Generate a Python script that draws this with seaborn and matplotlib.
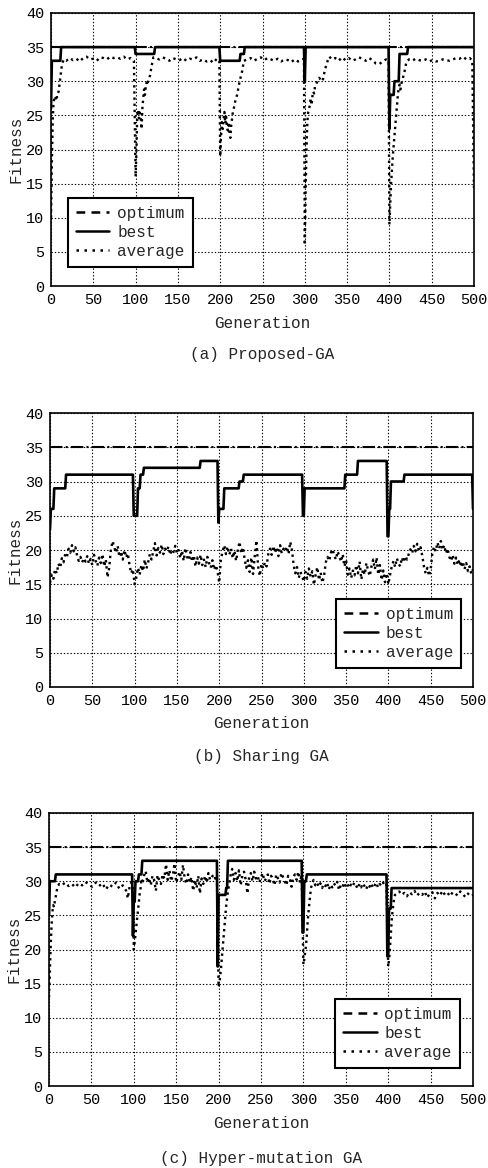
import numpy as np
import pandas as pd
import matplotlib
matplotlib.use("Agg")
import matplotlib.pyplot as plt
from matplotlib.lines import Line2D
import seaborn as sns

# ---------------- data ----------------
generations = np.arange(0, 501)
optimum_value = 35
x_ticks = list(range(0, 501, 50))
y_ticks = list(range(0, 41, 5))
captions = ["(a) Proposed-GA", "(b) Sharing GA", "(c) Hyper-mutation GA"]
legend_labels = ["optimum", "best", "average"]

# best fitness: (generation where value starts, value)
best_a_steps = [(0, 26), (1, 33), (12, 35), (100, 34), (123, 35), (200, 33), (224, 34),
                (229, 35), (300, 30), (301, 35), (400, 23), (401, 28), (406, 30),
                (412, 34), (422, 35)]
best_b_steps = [(0, 23), (1, 26), (5, 29), (19, 31), (99, 25), (104, 29), (107, 31),
                (111, 32), (178, 33), (199, 24), (200, 26), (206, 29), (224, 30),
                (229, 31), (299, 25), (301, 29), (349, 31), (364, 33), (399, 22),
                (401, 26), (403, 30), (419, 31), (500, 26)]
best_c_steps = [(0, 25), (1, 30), (8, 31), (99, 22), (100, 27), (102, 30), (106, 31),
                (110, 33), (199, 17.5), (200, 28), (209, 29), (211, 33), (299, 22.5),
                (301, 30), (304, 31), (399, 19), (401, 26), (404, 29)]

# average fitness (generation, value)
avg_a = [(0, 10), (1, 18), (2, 24), (3, 27), (4, 27.5), (5, 27.2), (6, 28), (7, 27.6),
         (8, 28.2), (9, 28.5), (10, 29.5), (11, 30.5), (12, 31.5), (13, 32.5), (15, 33.2),
         (18, 33.0), (22, 33.4), (26, 33.1), (30, 33.3), (34, 32.9), (38, 33.4), (42, 33.6),
         (46, 33.2), (50, 33.3), (54, 33.0), (58, 33.5), (62, 33.4), (66, 33.2), (70, 33.6),
         (74, 33.4), (78, 33.5), (82, 33.3), (86, 33.6), (90, 33.2), (94, 33.4), (98, 33.0),
         (100, 16), (101, 20), (102, 25), (103, 25.8), (104, 24.6), (105, 25.4), (106, 24.8),
         (107, 23), (108, 26), (109, 27.5), (110, 28.8), (111, 28), (112, 29.2), (113, 29.8),
         (114, 29.4), (115, 30.2), (117, 30.8), (119, 32.3), (121, 33.5), (124, 33.4),
         (128, 33.2), (132, 33.5), (136, 33.3), (140, 33.0), (144, 33.4), (148, 33.2),
         (152, 33.1), (156, 33.4), (160, 33.0), (164, 33.3), (168, 33.2), (172, 33.5),
         (176, 33.0), (180, 33.2), (184, 32.9), (188, 33.1), (192, 32.7), (196, 33.3),
         (199, 33.0),
         (200, 19), (201, 22), (202, 24), (203, 23), (204, 24.5), (205, 25.5), (206, 23.8),
         (207, 24.8), (208, 23.2), (209, 22.8), (210, 24), (211, 22.5), (212, 21.7),
         (213, 23.5), (214, 24.5), (215, 25.5), (216, 26), (218, 27.2), (220, 28),
         (222, 29.4), (224, 30.5), (226, 31.5), (228, 33), (232, 33.2), (236, 33.4),
         (240, 33.0), (244, 33.3), (248, 33.5), (252, 33.1), (256, 33.4), (260, 33.2),
         (264, 33.0), (268, 33.3), (272, 32.9), (276, 33.2), (280, 33.1), (284, 32.8),
         (288, 33.2), (292, 32.9), (296, 33.1), (299, 33.3),
         (300, 6), (301, 14), (302, 20), (303, 24), (304, 25.5), (305, 26), (306, 26.5),
         (307, 27.5), (308, 26.5), (309, 27.8), (310, 28.5), (311, 28.2), (312, 29.2),
         (313, 29.5), (315, 30.0), (317, 30.5), (319, 30.2), (321, 30.0), (323, 31.2),
         (325, 32.2), (327, 33.0), (329, 33.6), (332, 33.2), (336, 33.4), (340, 33.0),
         (344, 33.5), (348, 33.1), (352, 33.4), (356, 33.0), (360, 33.2), (364, 33.5),
         (368, 33.3), (372, 33.0), (376, 33.4), (380, 33.1), (384, 32.6), (388, 32.5),
         (392, 32.9), (396, 33.2), (399, 33.0),
         (400, 9), (401, 12), (402, 15), (403, 17), (404, 19), (405, 20.5), (406, 22),
         (407, 23.5), (408, 25), (409, 26.5), (410, 28), (411, 29), (412, 29.5), (413, 28.8),
         (414, 29.6), (416, 30.5), (418, 31.5), (420, 32.8), (423, 33.2), (427, 33.0),
         (431, 33.3), (435, 33.1), (439, 33.0), (443, 33.2), (447, 32.9), (451, 33.1),
         (455, 32.9), (459, 33.0), (463, 33.2), (467, 33.1), (471, 33.0), (475, 33.2),
         (479, 33.4), (483, 33.3), (487, 33.6), (491, 33.2), (495, 33.4), (498, 33.0),
         (500, 14)]

avg_b_gen = list(range(0, 501, 2))
avg_b_val = [15.2, 16.4, 15.8, 17.2, 16.6, 18.0, 17.4, 18.8, 18.2, 19.4, 19.0,
             20.2, 19.6, 20.7, 19.8, 20.4, 19.2, 18.4, 19.0, 18.2, 18.8,
             18.3, 19.1, 18.0, 18.7, 17.8, 19.3, 18.4, 17.7, 18.9, 18.1,
             19.4, 17.6, 18.6, 16.0, 17.4, 20.1, 21.3, 20.4, 19.6, 20.6,
             19.0, 19.8, 18.6, 20.0, 18.9, 19.5, 17.8, 16.6, 17.2, 15.0,
             16.0, 17.4, 16.4, 17.8, 16.9, 18.6, 17.3, 18.2, 19.4, 18.6,
             19.8, 21.0, 19.2, 20.3, 19.6, 20.8, 19.4, 20.2, 19.8, 20.5,
             19.3, 20.1, 19.7, 20.6, 19.5, 20.0, 18.8, 19.9, 18.4, 20.3,
             19.0, 18.5, 19.7, 18.3, 19.2, 17.6, 18.9, 18.0, 19.3, 17.8,
             18.6, 17.5, 19.0, 18.1, 17.4, 18.5, 17.1, 17.8, 16.9, 15.2,
             18.6, 19.8, 20.7, 19.4, 20.5, 19.3, 20.2, 18.8, 19.9, 18.4,
             20.0, 21.2, 19.5, 20.4, 18.7, 17.4, 18.5, 16.8, 18.9, 16.5,
             19.1, 21.4, 17.6, 16.2, 18.0, 17.3, 18.2, 17.6, 19.4, 20.2,
             19.3, 20.6, 19.6, 20.4, 19.1, 20.7, 19.5, 20.2, 19.8, 20.5,
             19.4, 21.2, 20.0, 17.8, 16.6, 17.5, 15.9, 16.8, 16.2, 15.4,
             16.8, 15.8, 17.3, 16.1, 16.9, 14.9, 16.4, 17.5, 15.6, 16.7,
             15.2, 16.3, 18.2, 19.0, 18.4, 19.6, 20.1, 19.2, 18.6, 19.8,
             19.1, 18.3, 19.4, 17.6, 18.5, 16.4, 17.3, 15.9, 17.0, 16.3,
             17.8, 16.6, 18.3, 15.7, 17.2, 16.4, 18.1, 17.0, 16.2, 17.6,
             18.6, 17.2, 18.9, 16.4, 17.8, 15.6, 17.0, 15.3, 16.6, 15.0,
             16.4, 17.6, 18.4, 17.5, 18.8, 18.0, 17.6, 18.9, 18.2, 19.1,
             18.6, 19.4, 20.1, 19.5, 20.6, 19.8, 20.9, 19.9, 20.4, 19.2,
             17.6, 16.6, 17.4, 16.2, 17.2, 19.6, 20.5, 19.8, 21.1, 20.2,
             21.3, 20.0, 20.7, 19.5, 20.2, 19.0, 18.4, 19.3, 18.0, 18.9,
             17.8, 18.6, 17.5, 18.3, 17.2, 18.1, 16.9, 17.6, 16.5, 17.2]

avg_c = [(0, 13), (1, 17), (2, 20.5), (3, 23.5), (4, 25.5), (5, 26.5), (6, 26.2), (7, 27.2),
         (8, 27.8), (9, 28.5), (10, 29.2), (12, 29.6), (15, 29.4), (19, 29.8), (23, 29.3),
         (27, 29.6), (31, 29.1), (35, 29.7), (39, 29.4), (43, 29.9), (47, 29.5), (51, 29.2),
         (55, 29.8), (59, 29.3), (63, 29.7), (67, 28.8), (71, 29.5), (75, 29.2), (79, 29.8),
         (83, 28.9), (87, 29.4), (91, 28.6), (93, 27.5), (95, 29.2), (97, 29.8), (99, 29.5),
         (100, 20), (101, 21), (102, 22.2), (103, 23.5), (104, 24.5), (105, 25.8), (106, 27),
         (107, 28.2), (108, 29), (109, 30.4), (110, 29.6), (112, 30.8), (114, 31.5),
         (116, 29.8), (118, 30.5), (120, 29.4), (122, 30.8), (124, 30.2), (126, 28.6),
         (128, 30.9), (130, 30.1), (132, 29.6), (134, 31.0), (136, 30.4), (138, 32.5),
         (140, 30.2), (142, 31.6), (144, 30.0), (146, 30.8), (148, 32.6), (150, 29.8),
         (152, 30.6), (154, 31.4), (156, 30.2), (158, 32.4), (160, 30.4), (162, 29.6),
         (164, 31.0), (166, 29.8), (168, 30.6), (170, 28.6), (172, 30.2), (174, 29.0),
         (176, 30.8), (178, 28.2), (180, 30.4), (182, 29.6), (184, 30.8), (186, 29.8),
         (188, 31.2), (190, 30.2), (192, 30.6), (194, 31.0), (196, 30.4), (198, 30.8),
         (200, 14.5), (201, 15.2), (202, 16.2), (203, 17.5), (204, 19), (205, 20.5),
         (206, 22), (207, 23.5), (208, 25), (209, 26.5), (210, 27.5), (211, 28.5),
         (212, 29.2), (214, 30.8), (216, 31.8), (218, 30.2), (220, 31.2), (222, 30.0),
         (224, 31.6), (226, 29.4), (228, 30.8), (230, 31.4), (232, 30.2), (234, 28.2),
         (236, 30.6), (238, 31.2), (240, 30.0), (242, 31.4), (244, 30.4), (246, 30.8),
         (248, 29.8), (250, 30.6), (252, 31.2), (254, 30.0), (256, 30.4), (258, 31.0),
         (260, 29.6), (262, 30.8), (264, 30.2), (266, 29.4), (268, 31.0), (270, 30.4),
         (272, 29.8), (274, 31.2), (276, 30.6), (278, 30.0), (280, 29.4), (282, 30.8),
         (284, 30.4), (286, 29.2), (288, 30.6), (290, 31.0), (292, 30.2), (294, 31.4),
         (296, 29.8), (298, 31.0),
         (300, 17.8), (301, 18.5), (302, 19.5), (303, 20.5), (304, 22), (305, 24),
         (306, 25.5), (307, 26.8), (308, 28), (309, 29), (310, 29.6), (312, 30.2),
         (314, 29.4), (316, 29.8), (318, 29.2), (320, 29.7), (322, 29.0), (324, 29.6),
         (326, 29.3), (328, 29.8), (330, 28.8), (332, 29.5), (334, 29.1), (336, 29.7),
         (338, 29.3), (340, 29.9), (342, 28.7), (344, 29.4), (346, 29.1), (348, 29.8),
         (350, 29.2), (352, 29.6), (354, 29.0), (356, 29.5), (358, 29.2), (360, 29.8),
         (362, 29.4), (364, 28.9), (366, 29.6), (368, 29.1), (370, 29.7), (372, 29.3),
         (374, 28.8), (376, 29.5), (378, 29.2), (380, 29.7), (382, 29.0), (384, 29.4),
         (386, 29.8), (388, 29.1), (390, 29.6), (392, 29.3), (394, 29.8), (396, 29.4),
         (398, 29.6),
         (400, 17.5), (401, 18.5), (402, 20), (403, 22), (404, 24), (405, 25.5), (406, 26.5),
         (407, 27.5), (408, 28), (410, 28.2), (413, 28.5), (416, 28.0), (419, 28.3),
         (422, 27.8), (425, 28.4), (428, 28.1), (431, 28.6), (434, 27.9), (437, 28.3),
         (440, 28.0), (443, 28.5), (446, 27.6), (449, 28.2), (452, 28.4), (455, 27.5),
         (458, 28.3), (461, 27.9), (464, 28.6), (467, 28.0), (470, 28.3), (473, 27.8),
         (476, 28.4), (479, 28.2), (482, 27.9), (485, 28.5), (488, 28.1), (491, 27.7),
         (494, 28.2), (497, 27.8), (500, 28.0)]


def expand_steps(steps):
    starts = np.array([s for s, _ in steps])
    vals = np.array([v for _, v in steps], dtype=float)
    idx = np.searchsorted(starts, generations, side="right") - 1
    return vals[idx]


# ---------------- style ----------------
sns.set_style("white")
FONT = ["Liberation Mono", "DejaVu Sans Mono"]
plt.rcParams["font.family"] = FONT
plt.rcParams["axes.edgecolor"] = "black"
plt.rcParams["axes.linewidth"] = 1.2

fig = plt.figure(figsize=(4.88, 11.68), dpi=100)

panels = [
    dict(pos=[51 / 488, 1 - 286 / 1168, 423 / 488, 273 / 1168], best=best_a_steps,
         avg=(np.array([g for g, _ in avg_a]), np.array([v for _, v in avg_a])),
         leg=dict(loc="upper left", anchor=(0.040, 0.322)),
         xlab_y=1 - 324 / 1168, cap_y=1 - 354 / 1168),
    dict(pos=[50 / 488, 1 - 687 / 1168, 423 / 488, 274 / 1168], best=best_b_steps,
         avg=(np.array(avg_b_gen), np.array(avg_b_val)),
         leg=dict(loc="upper right", anchor=(0.972, 0.321)),
         xlab_y=1 - 724 / 1168, cap_y=1 - 756 / 1168),
    dict(pos=[49 / 488, 1 - 1086 / 1168, 424 / 488, 273 / 1168], best=best_c_steps,
         avg=(np.array([g for g, _ in avg_c]), np.array([v for _, v in avg_c])),
         leg=dict(loc="upper right", anchor=(0.969, 0.319)),
         xlab_y=1 - 1124 / 1168, cap_y=1 - 1159 / 1168),
]

for i, p in enumerate(panels):
    ax = fig.add_axes(p["pos"])
    ax.set_axisbelow(True)
    ax.grid(True, color="black", linestyle=(0, (1.2, 1.8)), linewidth=0.8)

    opt = np.full(generations.shape, optimum_value, dtype=float)
    sns.lineplot(x=generations, y=opt, ax=ax, color="black", linewidth=1.5,
                 linestyle=(0, (6, 1.5, 1, 1.5)), estimator=None, sort=False)
    ax_g, ax_v = p["avg"]
    sns.lineplot(x=ax_g, y=ax_v, ax=ax, color="black", linewidth=1.7,
                 linestyle=(0, (1, 1.6)), estimator=None, sort=False)
    best = expand_steps(p["best"])
    sns.lineplot(x=generations, y=best, ax=ax, color="black", linewidth=1.9,
                 estimator=None, sort=False)

    ax.set_xlim(0, 500)
    ax.set_ylim(0, 40)
    ax.set_xticks(x_ticks)
    ax.set_yticks(y_ticks)
    ax.tick_params(length=0, labelsize=11, pad=5, colors="black")
    ax.set_xlabel("")
    ax.set_ylabel("Fitness", fontsize=11.5, labelpad=2)
    for s in ax.spines.values():
        s.set_visible(True)
        s.set_color("black")
        s.set_linewidth(1.2)

    handles = [Line2D([], [], color="black", lw=1.8, linestyle=(0, (3.5, 2.5))),
               Line2D([], [], color="black", lw=1.8, linestyle="-"),
               Line2D([], [], color="black", lw=1.8, linestyle=(0, (1, 2.2)))]
    leg = ax.legend(handles, legend_labels, loc=p["leg"]["loc"],
                    bbox_to_anchor=p["leg"]["anchor"], borderaxespad=0,
                    fontsize=11.5, frameon=True, fancybox=False, framealpha=1,
                    edgecolor="black", handlelength=2.1, handletextpad=0.5,
                    labelspacing=0.25, borderpad=0.5)
    leg.get_frame().set_linewidth(1.5)

    cx = p["pos"][0] + p["pos"][2] / 2
    fig.text(cx, p["xlab_y"], "Generation", ha="center", va="center", fontsize=11.5)
    fig.text(cx, p["cap_y"], captions[i], ha="center", va="center", fontsize=11.5)

fig.savefig("out.png", dpi=100, facecolor="white")
